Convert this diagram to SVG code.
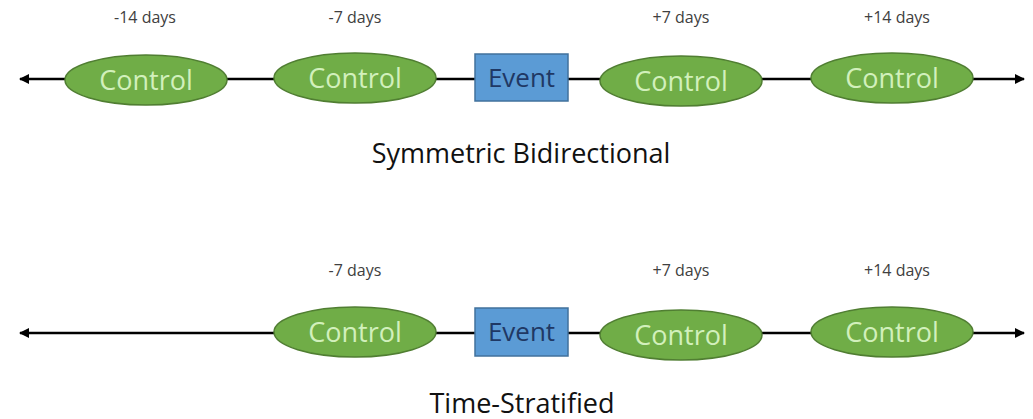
<svg xmlns="http://www.w3.org/2000/svg" width="1033" height="419" viewBox="0 0 1033 419">
  <defs>
    <marker id="arrow" viewBox="0 0 10 10" refX="9" refY="5" markerWidth="4" markerHeight="4" orient="auto-start-reverse">
      <path d="M0,0 L10,5 L0,10 z" fill="#000"/>
    </marker>
  </defs>
  <style>
    .axis { stroke: #000; stroke-width: 2.5; fill: none; }
    .ctrl { fill: #70ad47; stroke: #507e32; stroke-width: 1.5; }
    .ctrl-text { fill: #d2f0bc; font-family: "Open Sans", "Liberation Sans", sans-serif; font-size: 27px; text-anchor: middle; }
    .event { fill: #5b9bd5; stroke: #41719c; stroke-width: 1.5; }
    .event-text { fill: #1f3864; font-family: "Open Sans", "Liberation Sans", sans-serif; font-size: 26px; text-anchor: middle; }
    .day { fill: #404040; font-family: "Open Sans", "Liberation Sans", sans-serif; font-size: 16px; text-anchor: middle; }
    .title { fill: #111; font-family: "Open Sans", "Liberation Sans", sans-serif; font-size: 27px; text-anchor: middle; }
  </style>
  <rect width="1033" height="419" fill="#fff"/>

  <!-- timelines -->
  <g id="connectors">
    <line class="axis" x1="20" y1="79" x2="1024" y2="79" marker-start="url(#arrow)" marker-end="url(#arrow)"/>
    <line class="axis" x1="20" y1="333" x2="1024" y2="333" marker-start="url(#arrow)" marker-end="url(#arrow)"/>
  </g>

  <!-- symmetric bidirectional design -->
  <g id="sb-minus14">
    <ellipse class="ctrl" cx="146" cy="80" rx="81" ry="25"/>
    <text class="ctrl-text" x="146" y="90">Control</text>
    <text class="day" x="145" y="23">-14 days</text>
  </g>
  <g id="sb-minus7">
    <ellipse class="ctrl" cx="355" cy="78" rx="81" ry="25"/>
    <text class="ctrl-text" x="355" y="88">Control</text>
    <text class="day" x="355" y="23">-7 days</text>
  </g>
  <g id="sb-event">
    <rect class="event" x="475" y="54" width="93" height="47"/>
    <text class="event-text" x="521.5" y="87">Event</text>
  </g>
  <g id="sb-plus7">
    <ellipse class="ctrl" cx="681" cy="81" rx="81" ry="25"/>
    <text class="ctrl-text" x="681" y="91">Control</text>
    <text class="day" x="681" y="23">+7 days</text>
  </g>
  <g id="sb-plus14">
    <ellipse class="ctrl" cx="892" cy="78" rx="81" ry="25"/>
    <text class="ctrl-text" x="892" y="88">Control</text>
    <text class="day" x="897" y="23">+14 days</text>
  </g>
  <text class="title" x="521" y="163">Symmetric Bidirectional</text>

  <!-- time-stratified design -->
  <g id="ts-minus7">
    <ellipse class="ctrl" cx="355" cy="332" rx="81" ry="25"/>
    <text class="ctrl-text" x="355" y="342">Control</text>
    <text class="day" x="355" y="276">-7 days</text>
  </g>
  <g id="ts-event">
    <rect class="event" x="475" y="308" width="93" height="48"/>
    <text class="event-text" x="521.5" y="341">Event</text>
  </g>
  <g id="ts-plus7">
    <ellipse class="ctrl" cx="681" cy="335" rx="81" ry="25"/>
    <text class="ctrl-text" x="681" y="345">Control</text>
    <text class="day" x="681" y="276">+7 days</text>
  </g>
  <g id="ts-plus14">
    <ellipse class="ctrl" cx="892" cy="332" rx="81" ry="25"/>
    <text class="ctrl-text" x="892" y="342">Control</text>
    <text class="day" x="897" y="276">+14 days</text>
  </g>
  <text class="title" x="522" y="413">Time-Stratified</text>
</svg>
